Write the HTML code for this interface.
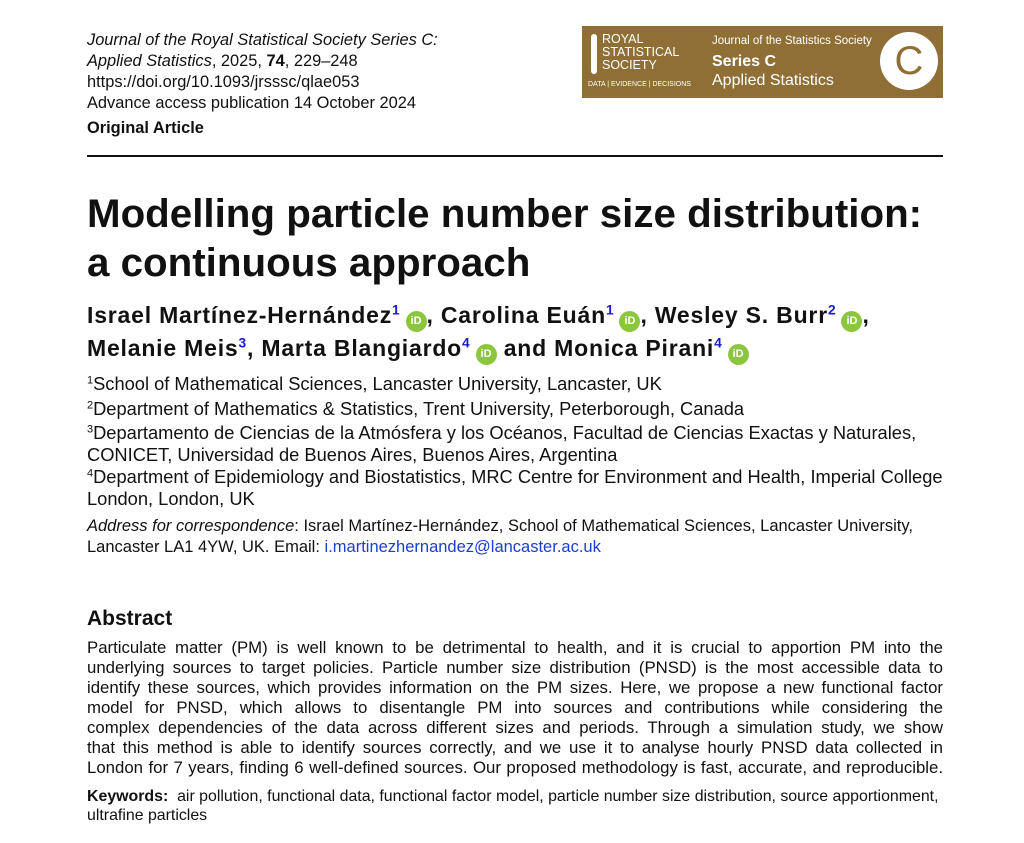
<!DOCTYPE html>
<html><head><meta charset="utf-8"><style>
body{margin:0;background:#fff;width:1024px;height:843px;position:relative;overflow:hidden;font-family:"Liberation Sans",Arial,sans-serif;color:#111}
.l{position:absolute;left:87px;white-space:nowrap;line-height:1}
.j{position:absolute;left:87px;width:856px;text-align:justify;text-align-last:justify;white-space:nowrap;line-height:1;font-size:16.8px}
sup{font-size:0.6em;vertical-align:0.6em;line-height:0}
.b{color:#1a1acc}
.orc{display:inline-block;width:21px;height:21px;border-radius:50%;background:#8cc63f;color:#fff;font-size:11px;line-height:21px;text-align:center;vertical-align:-1px;font-weight:bold;margin-left:5px;letter-spacing:0}
</style></head><body>
<div class="l" style="top:32px;font-size:16.4px;font-style:italic">Journal of the Royal Statistical Society Series C:</div>
<div class="l" style="top:53px;font-size:16.4px"><i>Applied Statistics</i>, 2025, <b>74</b>, 229–248</div>
<div class="l" style="top:74px;font-size:16.4px">https://doi.org/10.1093/jrsssc/qlae053</div>
<div class="l" style="top:95px;font-size:16.4px">Advance access publication 14 October 2024</div>
<div class="l" style="top:120px;font-size:16.4px;font-weight:bold">Original Article</div>

<div style="position:absolute;left:582px;top:26px;width:361px;height:72px;background:#8f6f35;color:#fff">
 <div style="position:absolute;left:9px;top:8px;width:6px;height:40px;background:#fff;border-radius:3px"></div>
 <div style="position:absolute;left:20px;top:7px;font-size:12.5px;line-height:13px">ROYAL<br>STATISTICAL<br>SOCIETY</div>
 <div style="position:absolute;left:6px;top:55px;font-size:7px">DATA | EVIDENCE | DECISIONS</div>
 <div style="position:absolute;left:130px;top:9px;font-size:11.5px">Journal of the Statistics Society</div>
 <div style="position:absolute;left:130px;top:27px;font-size:16px;font-weight:bold">Series C</div>
 <div style="position:absolute;left:130px;top:46px;font-size:16px">Applied Statistics</div>
 <div style="position:absolute;left:298px;top:6px;width:58px;height:58px;border-radius:50%;background:#fff;color:#8f6f35;font-size:40px;line-height:58px;text-align:center">C</div>
</div>

<div style="position:absolute;left:87px;top:155px;width:856px;height:2px;background:#111"></div>

<div class="l" style="top:194px;font-size:40.3px;font-weight:bold">Modelling particle number size distribution:</div>
<div class="l" style="top:243px;font-size:40.3px;font-weight:bold">a continuous approach</div>

<div class="l" style="top:304px;font-size:23px;font-weight:bold;letter-spacing:0.8px">Israel Martínez-Hernández<sup class="b">1</sup><span class="orc">iD</span>, Carolina Euán<sup class="b">1</sup><span class="orc">iD</span>, Wesley S. Burr<sup class="b">2</sup><span class="orc">iD</span>,</div>
<div class="l" style="top:337px;font-size:23px;font-weight:bold;letter-spacing:0.8px">Melanie Meis<sup class="b">3</sup>, Marta Blangiardo<sup class="b">4</sup><span class="orc">iD</span> and Monica Pirani<sup class="b">4</sup><span class="orc">iD</span></div>

<div class="l" style="top:375px;font-size:18.3px"><sup>1</sup>School of Mathematical Sciences, Lancaster University, Lancaster, UK</div>
<div class="l" style="top:400px;font-size:18.3px"><sup>2</sup>Department of Mathematics &amp; Statistics, Trent University, Peterborough, Canada</div>
<div class="l" style="top:424px;font-size:18.3px"><sup>3</sup>Departamento de Ciencias de la Atmósfera y los Océanos, Facultad de Ciencias Exactas y Naturales,</div>
<div class="l" style="top:446px;font-size:18.3px">CONICET, Universidad de Buenos Aires, Buenos Aires, Argentina</div>
<div class="l" style="top:468px;font-size:18.3px"><sup>4</sup>Department of Epidemiology and Biostatistics, MRC Centre for Environment and Health, Imperial College</div>
<div class="l" style="top:490px;font-size:18.3px">London, London, UK</div>

<div class="l" style="top:518px;font-size:16.5px"><i>Address for correspondence</i>: Israel Martínez-Hernández, School of Mathematical Sciences, Lancaster University,</div>
<div class="l" style="top:539px;font-size:16.5px">Lancaster LA1 4YW, UK. Email: <span style="color:#1a3fcc">i.martinezhernandez@lancaster.ac.uk</span></div>

<div class="l" style="top:608px;font-size:21px;font-weight:bold">Abstract</div>
<div class="j" style="top:640px">Particulate matter (PM) is well known to be detrimental to health, and it is crucial to apportion PM into the</div>
<div class="j" style="top:660px">underlying sources to target policies. Particle number size distribution (PNSD) is the most accessible data to</div>
<div class="j" style="top:680px">identify these sources, which provides information on the PM sizes. Here, we propose a new functional factor</div>
<div class="j" style="top:700px">model for PNSD, which allows to disentangle PM into sources and contributions while considering the</div>
<div class="j" style="top:720px">complex dependencies of the data across different sizes and periods. Through a simulation study, we show</div>
<div class="j" style="top:740px">that this method is able to identify sources correctly, and we use it to analyse hourly PNSD data collected in</div>
<div class="j" style="top:760px">London for 7 years, finding 6 well-defined sources. Our proposed methodology is fast, accurate, and reproducible.</div>
<div class="l" style="top:789px;font-size:15.9px"><b>Keywords:</b>&nbsp; air pollution, functional data, functional factor model, particle number size distribution, source apportionment,</div>
<div class="l" style="top:808px;font-size:15.9px">ultrafine particles</div>
</body></html>
